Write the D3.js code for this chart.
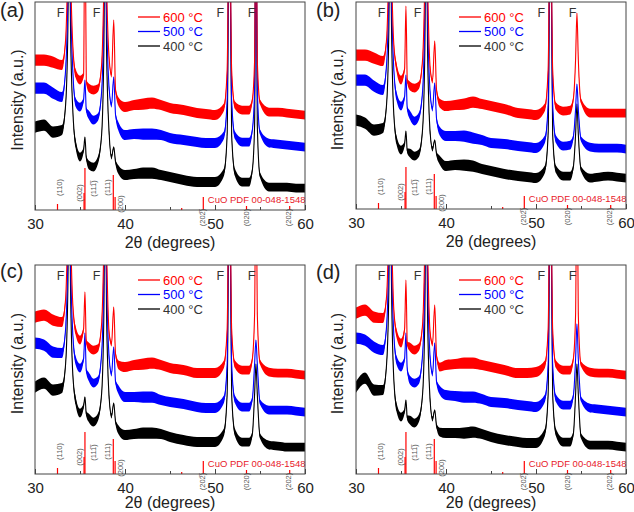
<!DOCTYPE html>
<html lang="en">
<head>
<meta charset="UTF-8" />
<title>XRD patterns of CuO films</title>
<style>
  body { margin: 0; background: white; overflow: hidden; }
  svg { display: block; }
  text { font-family: Arial, "Liberation Sans", sans-serif; }
</style>
</head>
<body>
<svg id="chart" width="634" height="512"></svg>
<script src="https://d3js.org/d3.v7.min.js"></script>
<script>
// 2theta sampling points (shared by every pattern)
const twoTheta = [
  30, 31, 32, 33, 33.4, 33.65, 33.8, 33.95, 34.2, 34.5,
  35, 35.4, 35.55, 35.7, 36, 36.5, 37, 37.4, 37.65, 37.8,
  37.95, 38.25, 38.5, 38.75, 38.95, 39.3, 40, 41, 42, 43,
  44, 45, 46.5, 48, 49, 50, 51, 51.35, 51.6, 51.85,
  52.2, 53, 53.8, 54.15, 54.4, 54.55, 54.7, 55.0, 56, 57,
  58, 59, 60
];
// half-width of the noise band
const noise = [
  4.5, 4.5, 4.5, 4, 2, 1, 0.5, 1, 2, 3.5,
  3.5, 2, 0.5, 2, 3.5, 3.5, 3, 2, 1, 0.5,
  1, 2, 2, 0.5, 2, 3.5, 4, 4, 4.5, 4.5,
  4, 4, 4, 4, 4, 4, 3, 2, 0.5, 2,
  3, 3.5, 3.5, 2, 1, 0.5, 1, 2, 3.5, 3.5,
  3.5, 3.5, 3.5
];

// panel (a)
const a600 = [150,150,148,145,170,245,320,240,165,137, 130,135,320,128,122,120,122,145,225,320,
  230,150,135,190,120,108,103,105,106,107, 105,102,100,97,96,95,103,140,320,140,
  105,100,100,110,150,320,150,108,98,98, 97,96,95];
const a500 = [122,122,117,113,140,215,320,215,140,108, 103,110,130,100,95,90,93,118,200,320,
  200,120,105,133,95,83,75,76,76,76, 75,72,70,68,67,67,75,110,320,110,
  75,68,68,80,120,320,120,78,67,66, 65,64,63];
const a400 = [83,85,78,80,105,180,320,180,100,67, 53,60,73,52,45,43,50,75,160,320,
  160,75,53,63,48,40,35,36,37,37, 35,33,30,28,28,28,38,75,320,75,
  38,28,28,40,85,320,85,35,23,23, 23,22,22];
// panel (b)
const b600 = [154,154,151,148,170,245,320,240,165,142, 129,140,203,128,123,121,124,150,230,320,
  230,140,128,168,119,106,103,104,105,107, 105,103,100,96,95,94,102,140,320,140,
  103,98,99,110,150,196,150,108,96,96, 96,96,96];
const b500 = [129,129,123,119,145,220,320,215,140,113, 103,112,134,100,94,88,93,118,200,320,
  200,115,100,126,90,78,73,73,73,71, 69,66,65,63,62,61,70,105,320,105,
  70,63,64,72,100,125,100,70,62,61, 61,61,60];
const b400 = [89,86,79,81,105,180,320,180,95,69, 59,65,78,58,56,53,56,80,160,320,
  160,75,60,69,55,49,43,44,44,43, 40,38,35,33,32,31,40,75,320,75,
  40,33,33,42,75,105,75,40,31,32, 33,32,31];
// panel (c)
const c600 = [157,159,154,152,175,250,320,245,170,144, 134,145,182,132,127,124,126,150,230,320,
  230,140,130,167,120,109,107,109,110,111, 109,106,104,101,101,101,110,145,320,145,
  110,104,104,115,160,320,160,112,102,101, 101,100,99];
const c500 = [131,129,122,121,145,220,320,215,140,114, 106,115,141,103,97,91,94,120,200,320,
  200,115,100,127,92,84,77,77,77,77, 74,72,70,67,66,66,75,110,320,110,
  75,67,67,75,110,134,110,72,64,64, 64,63,62];
const c400 = [87,91,84,86,110,185,320,185,100,74, 61,68,77,60,56,52,57,80,160,320,
  160,75,58,71,52,44,39,40,41,41, 40,37,34,32,32,32,42,80,320,80,
  42,32,32,40,80,110,80,38,29,28, 27,27,27];
// panel (d)
const d600 = [161,164,157,156,178,250,320,245,165,141, 131,145,194,130,127,124,127,150,230,320,
  230,140,130,169,118,107,109,110,111,111, 109,107,104,101,101,102,110,145,320,145,
  110,104,104,115,160,320,160,110,102,101, 101,100,99];
const d500 = [136,134,127,124,148,225,320,215,140,114, 107,115,141,104,94,91,94,120,200,320,
  200,115,100,131,92,84,79,78,77,77, 75,72,71,69,68,67,76,110,320,110,
  76,69,69,78,115,150,115,75,66,65, 64,63,62];
const d400 = [87,96,84,84,110,185,320,185,95,67, 57,63,74,56,54,51,56,80,160,320,
  160,72,55,64,48,42,41,41,41,42, 40,37,34,32,31,31,42,80,320,80,
  42,32,32,40,80,110,80,38,29,29, 29,28,27];

// CuO reference pattern (PDF 00-048-1548)
const refPos = [32.5, 35.45, 35.55, 38.7, 38.9, 46.3, 48.7, 53.5, 58.3];
const refInt = [6, 17, 42, 35, 13, 2, 13, 4, 4];
const hklText = ["(110)", "(002)", "(111\u0305)", "(111)", "(200)", "(202\u0305)", "(020)", "(202)"];
const hklPos = [32.67, 34.9, 36.45, 38.1, 39.55, 48.65, 53.55, 58.2];
const hklLevel = [22.5, 17, 21.5, 22.5, 6, -7.5, -7.5, -7.5];

const fLabelPos = [32.85, 36.85, 50.6, 54.05];
const legendText = ["600 \u00B0C", "500 \u00B0C", "400 \u00B0C"];
const xMajor = [30, 40, 50, 60];
const xMinor = [35, 45, 55];

const colors = { 600: "#ff0000", 500: "#0000ff", 400: "#000000" };

const panels = [
  { tag: "(a)", data: { 400: a400, 500: a500, 600: a600 }, left: 35, top: 2, bottom: 210, tagX: 0, tagY: 17 },
  { tag: "(b)", data: { 400: b400, 500: b500, 600: b600 }, left: 356, top: 2, bottom: 209, tagX: 316, tagY: 17 },
  { tag: "(c)", data: { 400: c400, 500: c500, 600: c600 }, left: 35, top: 265, bottom: 474, tagX: 0, tagY: 278 },
  { tag: "(d)", data: { 400: d400, 500: d500, 600: d600 }, left: 356, top: 265, bottom: 474, tagX: 316, tagY: 279 }
];
const plotW = 270;
const noiseScale = 1.25;

const svg = d3.select("#chart");

panels.forEach((p, pi) => {
  const h = p.bottom - p.top;
  const x = d3.scaleLinear().domain([30, 60]).range([0, plotW]);
  const y = d3.scaleLinear().domain([0, h]).range([h, 0]);

  const g = svg.append("g").attr("transform", `translate(${p.left},${p.top})`);

  g.append("clipPath").attr("id", "clip" + pi)
    .append("rect").attr("width", plotW).attr("height", h);

  const plot = g.append("g").attr("clip-path", `url(#clip${pi})`);

  // reference sticks
  plot.append("g").selectAll("line")
    .data(refPos.map((t, i) => ({ t, v: refInt[i] })))
    .join("line")
    .attr("x1", d => x(d.t)).attr("x2", d => x(d.t))
    .attr("y1", y(0)).attr("y2", d => y(d.v))
    .attr("stroke", "#ff0000").attr("stroke-width", 1.2);

  // patterns, 400 first so 600 ends on top
  [400, 500, 600].forEach(temp => {
    const pts = twoTheta.map((t, i) => ({ t, v: p.data[temp][i], n: noise[i] * noiseScale }));
    plot.append("path")
      .datum(pts)
      .attr("fill", colors[temp])
      .attr("d", d3.area().curve(d3.curveMonotoneX)
        .x(d => x(d.t)).y0(d => y(d.v - d.n)).y1(d => y(d.v + d.n)));
    plot.append("path")
      .datum(pts)
      .attr("fill", "none")
      .attr("stroke", colors[temp])
      .attr("stroke-width", 1.1)
      .attr("d", d3.line().curve(d3.curveMonotoneX).x(d => x(d.t)).y(d => y(d.v)));
  });

  // hkl labels
  g.append("g").selectAll("text")
    .data(hklText.map((s, i) => ({ s, t: hklPos[i], v: hklLevel[i] })))
    .join("text")
    .attr("transform", d => `translate(${x(d.t)},${y(d.v)}) rotate(-90)`)
    .attr("text-anchor", "middle")
    .attr("dominant-baseline", "central")
    .attr("font-size", 7.5)
    .attr("fill", "#555")
    .text(d => d.s);

  g.append("text")
    .attr("x", x(49.2)).attr("y", y(7))
    .attr("font-size", 9.5)
    .attr("fill", "#e8202a")
    .text("CuO PDF 00-048-1548");

  // F (FTO) labels
  g.append("g").selectAll("text")
    .data(fLabelPos)
    .join("text")
    .attr("x", d => x(d)).attr("y", 15)
    .attr("text-anchor", "middle")
    .attr("font-size", 12.5)
    .attr("fill", "#333")
    .text("F");

  // legend
  const leg = g.append("g").attr("transform", "translate(103,15)");
  [600, 500, 400].forEach((temp, i) => {
    leg.append("line")
      .attr("x1", 0).attr("x2", 22).attr("y1", i * 14.5).attr("y2", i * 14.5)
      .attr("stroke", colors[temp]).attr("stroke-width", 1.3);
    leg.append("text")
      .attr("x", 25).attr("y", i * 14.5 + 4.5)
      .attr("font-size", 13)
      .attr("fill", temp === 400 ? "#333" : colors[temp])
      .text(legendText[i]);
  });

  // frame
  g.append("rect")
    .attr("width", plotW).attr("height", h)
    .attr("fill", "none").attr("stroke", "#444").attr("stroke-width", 1);

  // x axis, ticks pointing inward
  const ax = g.append("g").attr("transform", `translate(0,${h})`)
    .call(d3.axisBottom(x).tickValues(xMajor).tickSize(-5).tickPadding(8).tickFormat(d3.format("d")));
  ax.select(".domain").remove();
  ax.selectAll("line").attr("stroke", "#444");
  ax.selectAll("text").attr("font-size", 15).attr("fill", "#222")
    .attr("font-family", 'Arial, "Liberation Sans", sans-serif');
  const axm = g.append("g").attr("transform", `translate(0,${h})`)
    .call(d3.axisBottom(x).tickValues(xMinor).tickSize(-3).tickFormat(""));
  axm.select(".domain").remove();
  axm.selectAll("line").attr("stroke", "#444");

  g.append("text")
    .attr("x", plotW / 2).attr("y", Math.min(h + 38, 508 - p.top))
    .attr("text-anchor", "middle")
    .attr("font-size", 16)
    .attr("fill", "#222")
    .text("2\u03B8 (degrees)");

  g.append("text")
    .attr("transform", `translate(${p.left === 35 ? -12 : -13},${h / 2 - 6}) rotate(-90)`)
    .attr("text-anchor", "middle")
    .attr("font-size", 16)
    .attr("fill", "#222")
    .text("Intensity (a.u.)");

  svg.append("text")
    .attr("x", p.tagX).attr("y", p.tagY)
    .attr("font-size", 20)
    .attr("fill", "#222")
    .text(p.tag);
});
</script>
</body>
</html>
